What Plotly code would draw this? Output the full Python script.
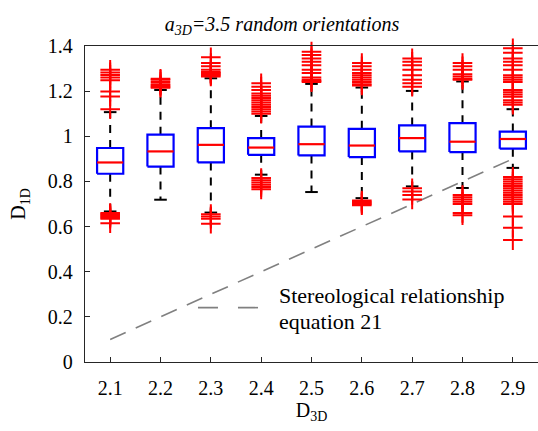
import plotly.graph_objects as go

# ---------------- data ----------------
categories = [2.1, 2.2, 2.3, 2.4, 2.5, 2.6, 2.7, 2.8, 2.9]
tick_labels = ["2.1", "2.2", "2.3", "2.4", "2.5", "2.6", "2.7", "2.8", "2.9"]
q1 = [0.834, 0.866, 0.884, 0.918, 0.915, 0.908, 0.933, 0.930, 0.945]
median = [0.884, 0.933, 0.962, 0.950, 0.965, 0.959, 0.992, 0.976, 0.988]
q3 = [0.948, 1.007, 1.036, 0.992, 1.043, 1.033, 1.048, 1.058, 1.021]
upper_adj = [1.107, 1.205, 1.257, 1.090, 1.232, 1.216, 1.201, 1.243, 1.120]
lower_adj = [0.667, 0.719, 0.662, 0.830, 0.753, 0.726, 0.778, 0.771, 0.860]

out_2_1 = [1.295, 1.283, 1.272, 1.26, 1.248, 1.198, 1.176, 1.12,
           0.66, 0.655, 0.65, 0.645, 0.64, 0.635, 0.615]
out_2_2 = [1.255, 1.25, 1.24, 1.23, 1.225, 1.22, 1.215]
out_2_3 = [1.35, 1.325, 1.31, 1.295, 1.285, 1.28, 1.275, 1.27, 1.265,
           0.655, 0.645, 0.635, 0.613]
out_2_4 = [1.235, 1.22, 1.205, 1.19, 1.18, 1.17, 1.16, 1.15, 1.14, 1.13, 1.12, 1.11, 1.10,
           0.815, 0.805, 0.795, 0.785, 0.775, 0.765]
out_2_5 = [1.375, 1.36, 1.345, 1.33, 1.315, 1.295, 1.28, 1.26, 1.25, 1.245, 1.24]
out_2_6 = [1.325, 1.31, 1.295, 1.28, 1.27, 1.26, 1.25, 1.24, 1.23, 1.225,
           0.715, 0.71, 0.705, 0.70, 0.695]
out_2_7 = [1.345, 1.33, 1.315, 1.295, 1.27, 1.25, 1.235, 1.22,
           0.77, 0.755, 0.74, 0.72]
out_2_8 = [1.325, 1.31, 1.295, 1.275, 1.265, 1.255, 1.25,
           0.74, 0.73, 0.72, 0.71, 0.70, 0.66, 0.65]
out_2_9 = [1.39, 1.37, 1.345, 1.33, 1.315, 1.295, 1.27, 1.26, 1.25, 1.24,
           1.205, 1.195, 1.185, 1.175, 1.16, 1.15, 1.14,
           0.82, 0.81, 0.80, 0.79, 0.78, 0.77, 0.76, 0.75, 0.74, 0.73, 0.72, 0.71, 0.70,
           0.645, 0.595, 0.54]
outliers = [out_2_1, out_2_2, out_2_3, out_2_4, out_2_5, out_2_6, out_2_7, out_2_8, out_2_9]

stereo_x = [2.1, 2.9]
stereo_y = [0.1, 0.9]

y_ticks = [0, 0.2, 0.4, 0.6, 0.8, 1.0, 1.2, 1.4]
y_tick_labels = ["0", "0.2", "0.4", "0.6", "0.8", "1", "1.2", "1.4"]

# ---------------- styles ----------------
BOX_HALF = 0.026
CAP_HALF = 0.0125
FONT = "Times New Roman, Liberation Serif, DejaVu Serif, serif"

fig = go.Figure()

# stereological line
fig.add_trace(go.Scatter(x=stereo_x, y=stereo_y, mode="lines",
                         line=dict(color="#808080", width=1.6, dash="17px,11px"),
                         hoverinfo="skip", showlegend=False))

# whiskers (dashed) and caps
wx, wy, cx, cy = [], [], [], []
for c, a, b, lo, hi in zip(categories, q1, q3, lower_adj, upper_adj):
    wx += [c, c, None, c, c, None]
    wy += [b, hi, None, a, lo, None]
    cx += [c - CAP_HALF, c + CAP_HALF, None, c - CAP_HALF, c + CAP_HALF, None]
    cy += [hi, hi, None, lo, lo, None]
fig.add_trace(go.Scatter(x=wx, y=wy, mode="lines",
                         line=dict(color="black", width=2, dash="8px,7px"),
                         hoverinfo="skip", showlegend=False))
fig.add_trace(go.Scatter(x=cx, y=cy, mode="lines",
                         line=dict(color="black", width=2),
                         hoverinfo="skip", showlegend=False))

# outliers
ox, oy = [], []
for c, vals in zip(categories, outliers):
    ox += [c] * len(vals)
    oy += vals
fig.add_trace(go.Scatter(x=ox, y=oy, mode="markers", cliponaxis=False,
                         marker=dict(symbol="cross-thin", size=14,
                                     line=dict(color="red", width=2)),
                         hoverinfo="skip", showlegend=False))

# boxes
bx, by = [], []
for c, a, b in zip(categories, q1, q3):
    bx += [c - BOX_HALF, c + BOX_HALF, c + BOX_HALF, c - BOX_HALF, c - BOX_HALF, None]
    by += [a, a, b, b, a, None]
fig.add_trace(go.Scatter(x=bx, y=by, mode="lines",
                         line=dict(color="blue", width=2.2),
                         hoverinfo="skip", showlegend=False))

# medians
mx, my = [], []
for c, m in zip(categories, median):
    mx += [c - BOX_HALF, c + BOX_HALF, None]
    my += [m, m, None]
fig.add_trace(go.Scatter(x=mx, y=my, mode="lines",
                         line=dict(color="red", width=2.2),
                         hoverinfo="skip", showlegend=False))

# legend sample and text
fig.add_shape(type="line", xref="paper", yref="paper",
              x0=0.2494, x1=0.404, y0=0.172, y1=0.172,
              line=dict(color="#808080", width=1.6, dash="20px,20px"))
fig.add_annotation(xref="paper", yref="paper", x=0.424, y=0.209,
                   xanchor="left", yanchor="middle", showarrow=False,
                   text="Stereological relationship",
                   font=dict(family=FONT, size=22, color="black"))
fig.add_annotation(xref="paper", yref="paper", x=0.424, y=0.127,
                   xanchor="left", yanchor="middle", showarrow=False,
                   text="equation 21",
                   font=dict(family=FONT, size=22, color="black"))

fig.update_layout(
    width=538, height=431,
    margin=dict(l=85, r=0, t=46, b=68.5),
    paper_bgcolor="white", plot_bgcolor="white",
    font=dict(family=FONT, size=20, color="black"),
    title=dict(text="<i>a<sub>3D</sub>=3.5 random orientations</i>",
               x=282 / 538, xanchor="center", y=1 - 24 / 431, yanchor="middle",
               font=dict(family=FONT, size=20, color="black")),
    showlegend=False,
)
fig.update_xaxes(range=[2.05, 2.95], tickvals=categories, ticktext=tick_labels,
                 ticks="inside", ticklen=5, tickwidth=1.2, tickcolor="#262626",
                 showline=True, linecolor="#262626", linewidth=1.3, mirror=True,
                 showgrid=False, zeroline=False, ticklabelstandoff=8,
                 tickfont=dict(family=FONT, size=20, color="black"),
                 title=dict(text="D<sub>3D</sub>", standoff=2,
                            font=dict(family=FONT, size=20, color="black")))
fig.update_yaxes(range=[0, 1.4], tickvals=y_ticks, ticktext=y_tick_labels,
                 ticks="inside", ticklen=5, tickwidth=1.2, tickcolor="#262626",
                 showline=True, linecolor="#262626", linewidth=1.3, mirror=False,
                 showgrid=False, zeroline=False, ticklabelstandoff=7,
                 tickfont=dict(family=FONT, size=20, color="black"),
                 title=dict(text="D<sub>1D</sub>", standoff=16,
                            font=dict(family=FONT, size=20, color="black")))

fig.write_html("out.html")
